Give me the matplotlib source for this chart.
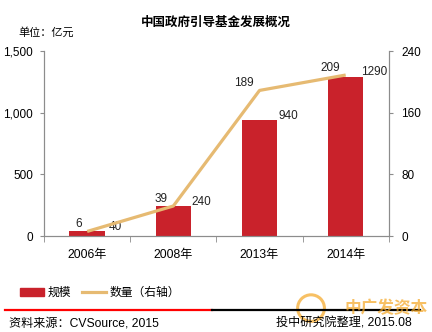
import matplotlib.pyplot as plt
from matplotlib.lines import Line2D
from matplotlib.patches import Patch, Ellipse
import numpy as np

plt.rcParams['font.family'] = ['Liberation Sans', 'Noto Sans CJK SC', 'DejaVu Sans']

# 数据
years = ['2006年', '2008年', '2013年', '2014年']
scale = [40, 240, 940, 1290]      # 规模（亿元）
count = [6, 39, 189, 209]         # 数量（右轴）

bar_color = '#C9222B'
line_color = '#E6BA72'
axis_color = '#8C8C8C'

fig = plt.figure(figsize=(4.32, 3.32), dpi=100)
ax = fig.add_axes([0.102, 0.289, 0.798, 0.557])
ax2 = ax.twinx()

x = np.arange(len(years))
ax.bar(x, scale, width=0.41, color=bar_color, zorder=2)
ax2.plot(x, count, color=line_color, lw=2.3, solid_capstyle='butt', zorder=3)

# 数值标签
for i, v in enumerate(scale):
    ax.annotate(str(v), (i, v), xytext=(20.5, -1), textcoords='offset points',
                ha='center', va='bottom', fontsize=8.5, color='#222222')
for i, v in enumerate(count):
    ax2.annotate(str(v), (i, v), xytext=(-4, 1), textcoords='offset points',
                 ha='right', va='bottom', fontsize=8.5, color='#222222')

ax.set_xlim(-0.5, 3.5)
ax.set_ylim(0, 1500)
ax2.set_ylim(0, 240)
ax.set_yticks([0, 500, 1000, 1500])
ax.set_yticklabels(['0', '500', '1,000', '1,500'])
ax2.set_yticks([0, 80, 160, 240])

ax.set_xticks(x)
ax.set_xticklabels(years)
ax.set_xticks(np.arange(-0.5, 4, 1), minor=True)
ax.tick_params(axis='x', which='major', length=0, pad=9, labelsize=8.7)
ax.tick_params(axis='x', which='minor', length=4, color=axis_color, direction='out')
ax.tick_params(axis='y', length=3, color=axis_color, labelsize=8.5, pad=5)
ax2.tick_params(axis='y', length=3, color=axis_color, labelsize=8.5, pad=6)

for a in (ax, ax2):
    a.spines['top'].set_visible(False)
    for s in ('left', 'right', 'bottom'):
        a.spines[s].set_color(axis_color)
        a.spines[s].set_linewidth(0.8)

# 标题
fig.text(0.5, 0.933, '中国政府引导基金发展概况', ha='center', va='center',
         fontsize=9, fontweight='bold')
fig.text(0.042, 0.903, '单位：亿元', ha='left', va='center', fontsize=8)

# 图例
handles = [Patch(color=bar_color, label='规模'),
           Line2D([0], [0], color=line_color, lw=2.3, label='数量（右轴）')]
fig.legend(handles=handles, loc='center left', bbox_to_anchor=(0.022, 0.117),
           ncol=2, frameon=False, fontsize=8.5, handlelength=2.0,
           handleheight=0.7, columnspacing=0.9, handletextpad=0.35)

# 底部分隔线
fig.add_artist(Line2D([0.012, 0.49], [0.066, 0.066], color='#FF0000', lw=1.6))
fig.add_artist(Line2D([0.49, 0.972], [0.066, 0.066], color='#000000', lw=1.6))

fig.text(0.021, 0.027, '资料来源：CVSource, 2015', ha='left', va='center', fontsize=8.7)
fig.text(0.952, 0.027, '投中研究院整理, 2015.08', ha='right', va='center', fontsize=8.7)

# 水印
fig.add_artist(Ellipse((0.72, 0.072), 0.062, 0.08, transform=fig.transFigure,
                       fill=False, ec='#F5A623', lw=2.2, alpha=0.7))
fig.text(0.99, 0.072, '中广发资本', ha='right', va='center', fontsize=12,
         fontweight='bold', color='#F5A623', alpha=0.7)

fig.savefig('out.png', dpi=100)
